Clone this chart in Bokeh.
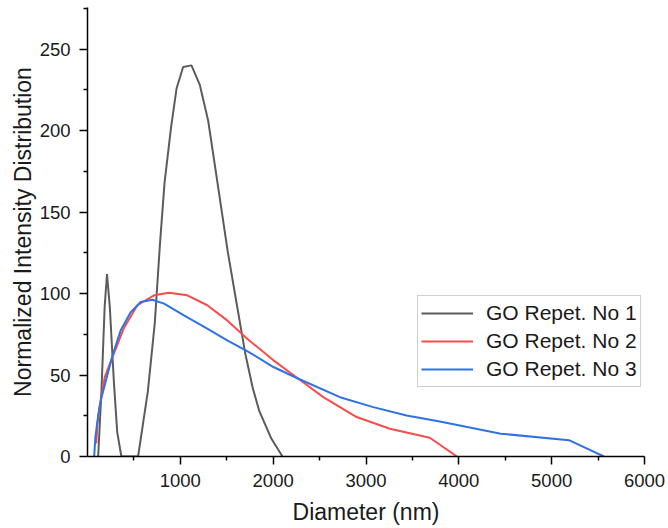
from bokeh.plotting import figure
from bokeh.models import FixedTicker, Range1d, Legend, LegendItem
from bokeh.embed import file_html
from bokeh.resources import INLINE

# GO Repet. No 1 (gray)
x1 = [115, 150, 185, 210, 240, 285, 320, 365, 545, 650, 725, 780, 830, 900, 960,
      1030, 1120, 1210, 1300, 1400, 1510, 1600, 1700, 1780, 1850, 1980, 2100]
y1 = [0, 40, 92, 112, 92, 45, 15, 0, 0, 40, 82, 130, 168, 202, 226,
      239, 240, 228, 206, 168, 126, 96, 63, 42, 28, 11, 0]

# GO Repet. No 2 (red)
x2 = [95, 107, 130, 161, 186, 269, 394, 537, 717, 878, 1075, 1290, 1505, 1720,
      2003, 2272, 2540, 2899, 3257, 3687, 3980]
y2 = [8, 20, 31, 40.5, 48.7, 61, 79, 92.8, 98.9, 100.5, 98.9, 92.8, 83.5, 72.3,
      59, 47.7, 36.4, 24.2, 17, 11.5, 0]

# GO Repet. No 3 (blue)
x3 = [72, 85, 115, 150, 200, 269, 358, 466, 573, 699, 824, 1039, 1290, 1505, 1720,
      2003, 2272, 2720, 3078, 3437, 3795, 4452, 5186, 5563]
y3 = [0, 12, 25, 36, 47, 62, 77.4, 88.6, 94.8, 96.2, 93.8, 86.6, 78.4, 71.3, 64.7,
      54.9, 47.7, 36.4, 30.3, 25.2, 21.5, 14, 10, 0]

series_names = ["GO Repet. No 1", "GO Repet. No 2", "GO Repet. No 3"]
x_major = [1000, 2000, 3000, 4000, 5000, 6000]
x_minor = [500, 1500, 2500, 3500, 4500, 5500]
y_major = [0, 50, 100, 150, 200, 250]
y_minor = [25, 75, 125, 175, 225, 275]

FONT = "Liberation Sans"

p = figure(width=668, height=528, x_range=Range1d(0, 6000), y_range=Range1d(0, 275.5),
           output_backend="svg", toolbar_location=None,
           min_border_left=87, min_border_right=24, min_border_top=7, min_border_bottom=72)
p.outline_line_color = None
p.grid.visible = False
p.background_fill_color = "white"
p.border_fill_color = "white"

r1 = p.line(x1, y1, line_color="#5c5c5c", line_width=2)
r2 = p.line(x2, y2, line_color="#f84c4c", line_width=2)
r3 = p.line(x3, y3, line_color="#2f72e4", line_width=2)

p.xaxis.ticker = FixedTicker(ticks=x_major, minor_ticks=x_minor)
p.yaxis.ticker = FixedTicker(ticks=y_major, minor_ticks=y_minor)

for ax in (p.xaxis[0], p.yaxis[0]):
    ax.axis_line_width = 1.5
    ax.axis_line_color = "black"
    ax.major_tick_out = 8
    ax.major_tick_in = 0
    ax.minor_tick_out = 4
    ax.minor_tick_in = 0
    ax.major_tick_line_width = 1.5
    ax.minor_tick_line_width = 1.5
    ax.major_tick_line_color = "black"
    ax.minor_tick_line_color = "black"
    ax.major_label_text_font = FONT
    ax.major_label_text_font_size = "18.5px"
    ax.major_label_text_color = "#1a1a1a"
    ax.axis_label_text_font = FONT
    ax.axis_label_text_font_size = "23px"
    ax.axis_label_text_font_style = "normal"
    ax.axis_label_text_color = "#1a1a1a"

p.xaxis.axis_label = "Diameter (nm)"
p.yaxis.axis_label = "Normalized Intensity Distribution"
p.xaxis.major_label_standoff = 9
p.yaxis.major_label_standoff = 9
p.xaxis.axis_label_standoff = 9
p.yaxis.axis_label_standoff = 1

legend = Legend(items=[LegendItem(label=series_names[0], renderers=[r1]),
                       LegendItem(label=series_names[1], renderers=[r2]),
                       LegendItem(label=series_names[2], renderers=[r3])],
                location=(330, 69))
legend.border_line_color = "#a0a0a0"
legend.border_line_width = 1
legend.background_fill_color = "white"
legend.background_fill_alpha = 1
legend.label_text_font = FONT
legend.label_text_font_size = "21px"
legend.label_text_color = "#1a1a1a"
legend.padding = 3
legend.spacing = 0
legend.margin = 0
legend.glyph_width = 52
legend.glyph_height = 28
legend.label_height = 28
legend.label_standoff = 13
p.add_layout(legend)

open("out.html", "w").write(file_html(p, INLINE))
